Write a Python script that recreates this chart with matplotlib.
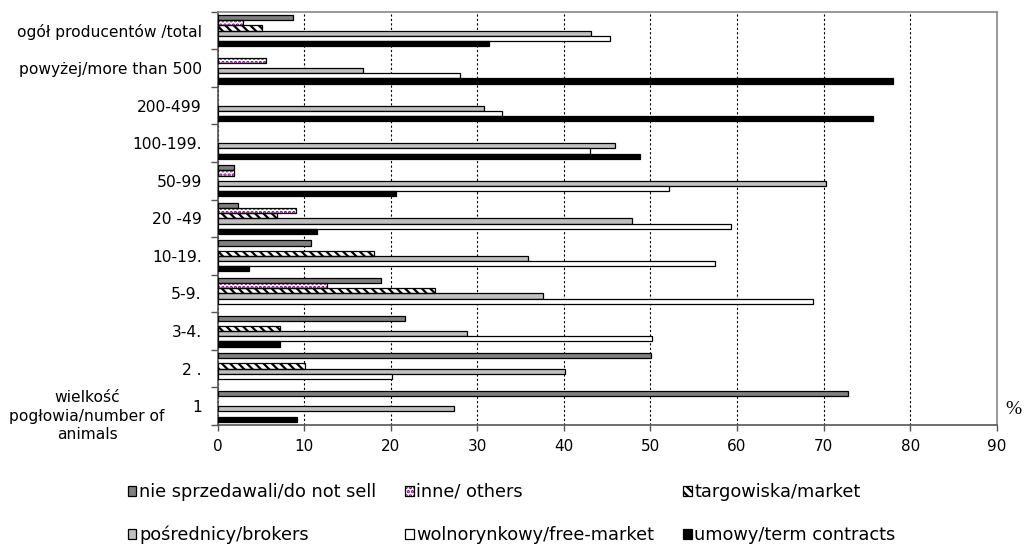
import matplotlib
matplotlib.use('Agg')
from matplotlib import pyplot as plt
from matplotlib.patches import Patch
from matplotlib.legend_handler import HandlerTuple
import numpy as np

# categories listed top to bottom as in the chart
categories = ['ogół producentów /total', 'powyżej/more than 500', '200-499', '100-199.',
              '50-99', '20 -49', '10-19.', '5-9.', '3-4.', '2 .', '1']

nie_sprzedawali = [8.7, 0, 0, 0, 1.9, 2.3, 10.8, 18.9, 21.6, 50.1, 72.8]
inne = [2.9, 5.6, 0, 0, 1.9, 9.1, 0, 12.6, 0, 0, 0]
targowiska = [5.1, 0, 0, 0, 0, 6.9, 18.0, 25.1, 7.2, 10.1, 0]
posrednicy = [43.1, 16.8, 30.8, 45.9, 70.3, 47.9, 35.9, 37.6, 28.8, 40.1, 27.3]
wolnorynkowy = [45.3, 28.0, 32.8, 43.0, 52.1, 59.3, 57.4, 68.8, 50.2, 20.1, 0]
umowy = [31.3, 78.0, 75.7, 48.8, 20.6, 11.5, 3.6, 0, 7.2, 0, 9.2]

labels = ['nie sprzedawali/do not sell', 'inne/ others', 'targowiska/market',
          'pośrednicy/brokers', 'wolnorynkowy/free-market', 'umowy/term contracts']

plt.rcParams['font.family'] = ['DejaVu Sans']
plt.rcParams['hatch.linewidth'] = 1.6

fig = plt.figure(figsize=(10.25, 5.48), dpi=100)
ax = fig.add_axes([0.2124, 0.2245, 0.9724 - 0.2124, 0.9786 - 0.2245])

n = len(categories)
centers = np.arange(n)[::-1]
h = 0.138
lw = 0.9

series = [
    (nie_sprzedawali, dict(color='#808080'), None),
    (inne, dict(color='white'), ('#800080', '....')),
    (targowiska, dict(color='white'), ('black', '\\\\\\\\')),
    (posrednicy, dict(color='#c0c0c0'), None),
    (wolnorynkowy, dict(color='white'), None),
    (umowy, dict(color='black'), None),
]

for k, (vals, style, hatch) in enumerate(series):
    vals = np.array(vals, dtype=float)
    ys = centers + (2.5 - k) * h
    m = vals > 0
    if hatch is None:
        ax.barh(ys[m], vals[m], height=h, edgecolor='black', linewidth=lw, zorder=3, **style)
    else:
        ax.barh(ys[m], vals[m], height=h, edgecolor=hatch[0], hatch=hatch[1], linewidth=0,
                zorder=3, **style)
        ax.barh(ys[m], vals[m], height=h, fill=False, edgecolor='black', linewidth=lw, zorder=4)

ax.set_xlim(0, 90)
ax.set_ylim(-0.5, n - 0.5)
ax.set_xticks(range(0, 91, 10))
ax.tick_params(axis='x', labelsize=11, length=4, width=1, color='#555555', pad=6)
ax.set_yticks(centers)
ax.set_yticklabels(categories)
ax.set_yticks(np.arange(-0.5, n, 1.0), minor=True)
ax.tick_params(axis='y', which='major', length=0, labelsize=11.2, pad=11.5)
ax.tick_params(axis='y', which='minor', length=5, width=1, color='#555555')
ax.xaxis.grid(True, linestyle=(0, (2, 2)), color='black', linewidth=0.8, zorder=0)
ax.set_axisbelow(True)

for s in ['left', 'bottom']:
    ax.spines[s].set_color('#555555')
    ax.spines[s].set_linewidth(1.2)
for s in ['top', 'right']:
    ax.spines[s].set_color('#888888')
    ax.spines[s].set_linewidth(1.2)

fig.text(87 / 1025, 1 - 416 / 548, 'wielkość\npogłowia/number of\nanimals',
         ha='center', va='center', multialignment='center', fontsize=11.2, linespacing=1.3)
fig.text(1005 / 1025, 1 - 409 / 548, '%', ha='left', va='center',
         family='Liberation Serif', fontsize=14)

# legend handles
hs = [
    Patch(facecolor='#808080', edgecolor='black', linewidth=lw),
    (Patch(facecolor='white', edgecolor='#800080', hatch='....', linewidth=0),
     Patch(fill=False, edgecolor='black', linewidth=lw)),
    (Patch(facecolor='white', edgecolor='black', hatch='\\\\\\\\', linewidth=0),
     Patch(fill=False, edgecolor='black', linewidth=lw)),
    Patch(facecolor='#c0c0c0', edgecolor='black', linewidth=lw),
    Patch(facecolor='white', edgecolor='black', linewidth=lw),
    Patch(facecolor='black', edgecolor='black', linewidth=lw),
]
order = [0, 3, 1, 4, 2, 5]
fig.legend([hs[i] for i in order], [labels[i] for i in order], ncol=3,
           loc='upper left', bbox_to_anchor=(127.5 / 1025, 1 - 483 / 548),
           frameon=False, fontsize=12.8, handlelength=0.5, handleheight=0.5,
           handletextpad=0.15, columnspacing=1.6, labelspacing=1.4,
           borderpad=0, borderaxespad=0,
           handler_map={tuple: HandlerTuple(ndivide=1)})

plt.savefig('out.png', dpi=100)
